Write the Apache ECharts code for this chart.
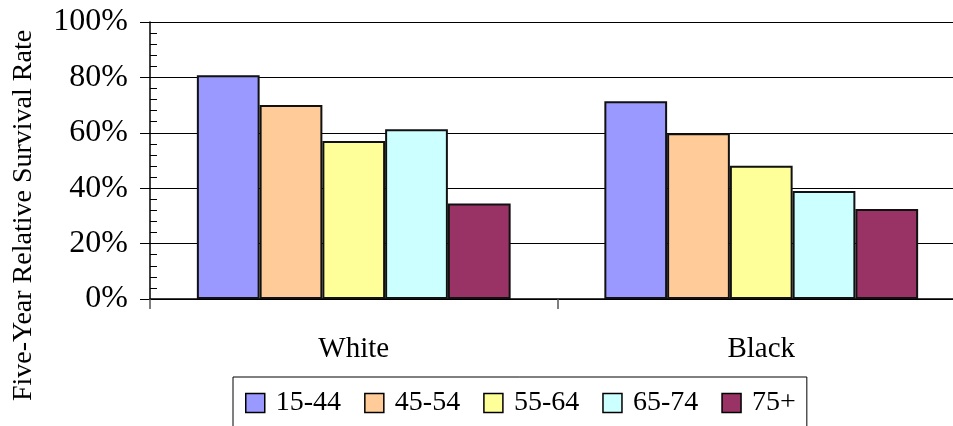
<!DOCTYPE html>
<html>
<head>
<meta charset="utf-8">
<script src="https://cdn.jsdelivr.net/npm/echarts@6/dist/echarts.min.js"></script>
<style>
html,body{margin:0;padding:0;background:#fff;}
#chart{width:953px;height:426px;}
</style>
</head>
<body>
<div id="chart"></div>
<script>
const categories = ['White', 'Black'];
const seriesNames = ['15-44', '45-54', '55-64', '65-74', '75+'];
const values_15_44 = [80.8, 71.4];
const values_45_54 = [70.0, 59.8];
const values_55_64 = [57.0, 48.1];
const values_65_74 = [61.3, 39.0];
const values_75p = [34.5, 32.5];
const yTicks = [0, 20, 40, 60, 80, 100];

const allValues = [values_15_44, values_45_54, values_55_64, values_65_74, values_75p];
const colors = ['#9999FF', '#FFCC99', '#FFFF99', '#CCFFFF', '#993366'];
const FONT = "'Liberation Serif', 'Times New Roman', serif";

const chart = echarts.init(document.getElementById('chart'), null, {renderer: 'canvas'});
chart.setOption({
  animation: false,
  backgroundColor: '#ffffff',
  textStyle: {fontFamily: FONT, color: '#000'},
  grid: {left: 150, top: 22, bottom: 127, width: 815, containLabel: false, outerBoundsMode: 'none'},
  legend: {
    data: seriesNames,
    left: 233, top: 377,
    orient: 'horizontal',
    itemWidth: 19, itemHeight: 19,
    itemGap: 23,
    icon: 'rect',
    padding: [12, 11, 40, 12],
    borderColor: '#000', borderWidth: 1,
    backgroundColor: '#fff',
    textStyle: {fontFamily: FONT, fontSize: 28, color: '#000', padding: [0, 0, 0, 6]},
    itemStyle: {borderColor: '#000', borderWidth: 1.5}
  },
  xAxis: {
    type: 'category',
    data: categories,
    boundaryGap: true,
    axisLine: {lineStyle: {color: '#000', width: 1.5}},
    axisTick: {show: true, length: 10, lineStyle: {color: '#555', width: 1.5}},
    axisLabel: {fontFamily: FONT, fontSize: 29, color: '#000', margin: 36},
    splitLine: {show: false}
  },
  yAxis: [{
    type: 'value',
    min: yTicks[0], max: yTicks[yTicks.length - 1], interval: 20,
    name: 'Five-Year Relative Survival Rate',
    nameLocation: 'middle',
    nameGap: 112,
    nameTextStyle: {fontFamily: FONT, fontSize: 28, color: '#000', padding: [0, 110, 0, 0]},
    axisLine: {show: true, lineStyle: {color: '#000', width: 1.5}},
    axisTick: {show: true, length: 10, lineStyle: {color: '#000', width: 1}},
    axisLabel: {fontFamily: FONT, fontSize: 32, color: '#000', margin: 22, formatter: '{value}%'},
    splitLine: {show: true, lineStyle: {color: '#000', width: 1}}
  }, {
    type: 'value',
    position: 'left',
    min: 0, max: 100, interval: 4,
    axisLine: {show: false},
    axisTick: {show: true, inside: true, length: 7, lineStyle: {color: '#000', width: 1}},
    axisLabel: {show: false},
    splitLine: {show: false}
  }],
  series: seriesNames.map((n, i) => ({
    name: n,
    type: 'bar',
    yAxisIndex: 0,
    data: allValues[i],
    barGap: '0%',
    barCategoryGap: '23%',
    itemStyle: {color: colors[i], borderColor: '#111', borderWidth: 2}
  }))
});
</script>
</body>
</html>
